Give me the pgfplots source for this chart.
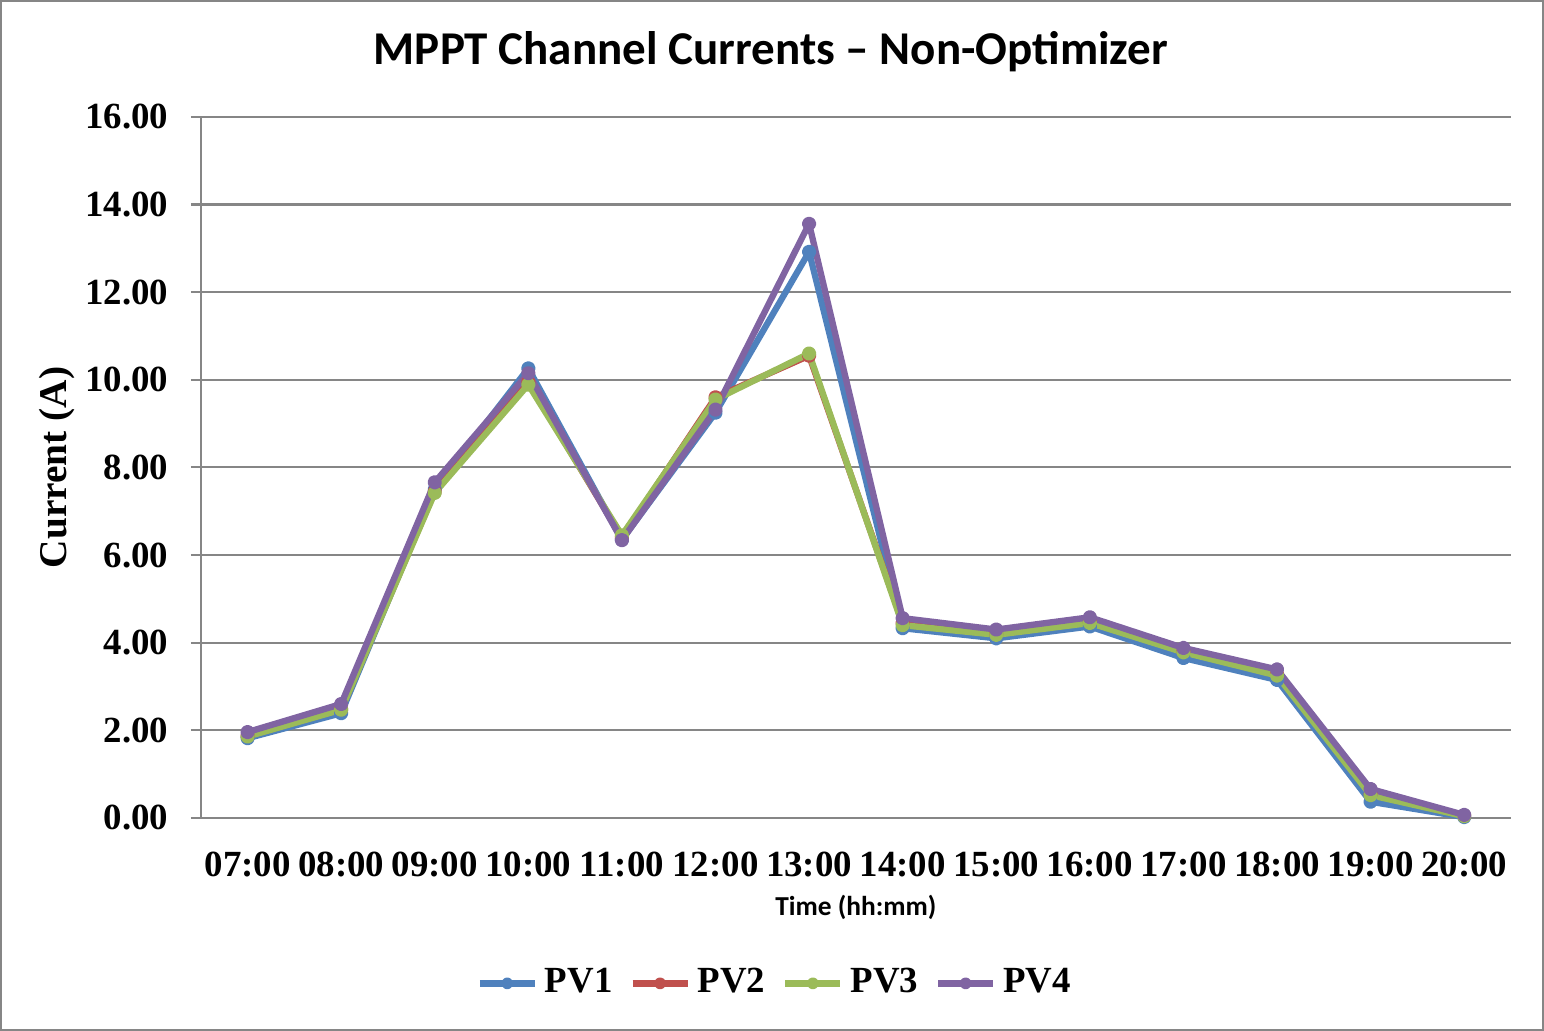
\documentclass[border=0pt]{standalone}
\usepackage{pgfplots}
\pgfplotsset{compat=1.18}
\usepackage{fontspec}
\setmainfont{Liberation Serif}
\newfontfamily\calibri{Carlito}
\definecolor{pvblue}{RGB}{79,129,189}
\definecolor{pvred}{RGB}{192,80,77}
\definecolor{pvgreen}{RGB}{155,187,89}
\definecolor{pvpurple}{RGB}{128,100,162}
\definecolor{gridgray}{RGB}{134,134,134}

\begin{document}
\begin{tikzpicture}
\draw[gridgray, line width=0.6pt] (0,0) rectangle (15.44cm,10.30cm);
\node[font=\calibri\bfseries\fontsize{13.4}{15}\selectfont] at (7.71cm,9.79cm) {MPPT Channel Currents – Non-Optimizer};
\begin{axis}[
    at={(2.00cm,2.12cm)}, anchor=south west,
    width=13.12cm, height=7.02cm, scale only axis,
    clip=false,
    xmin=-0.5, xmax=13.5,
    ymin=0, ymax=16,
    axis x line=bottom, axis y line=left,
    axis line style={gridgray, line width=0.6pt, -},
    xtick={0,...,13},
    xticklabels={07:00,08:00,09:00,10:00,11:00,12:00,13:00,14:00,15:00,16:00,17:00,18:00,19:00,20:00},
    major x tick style={draw=none},
    extra x ticks={-0.5,0.5,...,13.5},
    extra x tick labels={},
    extra x tick style={major tick length=0.1cm, tick style={gridgray, line width=0.6pt}, grid=none},
    ytick={0,2,...,16},
    yticklabel={\pgfmathprintnumber[fixed,fixed zerofill,precision=2]{\tick}},
    /pgf/number format/assume math mode=true,
    tick align=outside,
    major tick length=0.1cm,
    tick style={gridgray, line width=0.6pt},
    ymajorgrids=true,
    grid style={gridgray, line width=0.6pt},
    ticklabel style={font=\bfseries\fontsize{10.5}{12}\selectfont},
    yticklabel style={xshift=-0.1cm},
    xticklabel style={yshift=-0.12cm},
    ylabel={Current (A)},
    ylabel style={at={(axis description cs:-0.11,0.5)}, anchor=center, font=\bfseries\fontsize{11.2}{13}\selectfont},
    xlabel={Time (hh:mm)},
    xlabel style={at={(axis description cs:0.5,-0.127)}, anchor=center, font=\calibri\bfseries\fontsize{7.8}{9}\selectfont},
    legend columns=4,
    legend style={at={(0.44,-0.236)}, anchor=center, draw=none, fill=none,
        font=\bfseries\fontsize{10.5}{12}\selectfont,
        /tikz/every even column/.append style={column sep=0.1cm}},
    legend image code/.code={\draw[#1, mark repeat=2, mark phase=2, mark size=0.8pt] plot coordinates {(0cm,0cm) (0.275cm,0cm) (0.55cm,0cm)};},
    every axis plot/.append style={line width=1.8pt, mark=*, mark size=1.15pt, line join=round},
]
\addplot[color=pvblue, mark options={fill=pvblue}] coordinates {
  (0,1.82) (1,2.39) (2,7.50) (3,10.26) (4,6.35) (5,9.25) (6,12.92)
  (7,4.33) (8,4.10) (9,4.37) (10,3.65) (11,3.15) (12,0.37) (13,0.02)
};
\addlegendentry{PV1}
\addplot[color=pvred, mark options={fill=pvred}] coordinates {
  (0,1.87) (1,2.48) (2,7.45) (3,9.95) (4,6.40) (5,9.60) (6,10.55)
  (7,4.45) (8,4.20) (9,4.47) (10,3.80) (11,3.28) (12,0.54) (13,0.05)
};
\addlegendentry{PV2}
\addplot[color=pvgreen, mark options={fill=pvgreen}] coordinates {
  (0,1.86) (1,2.47) (2,7.42) (3,9.89) (4,6.45) (5,9.55) (6,10.60)
  (7,4.40) (8,4.18) (9,4.45) (10,3.78) (11,3.25) (12,0.52) (13,0.04)
};
\addlegendentry{PV3}
\addplot[color=pvpurple, mark options={fill=pvpurple}] coordinates {
  (0,1.96) (1,2.60) (2,7.66) (3,10.15) (4,6.34) (5,9.32) (6,13.56)
  (7,4.56) (8,4.30) (9,4.58) (10,3.88) (11,3.39) (12,0.66) (13,0.07)
};
\addlegendentry{PV4}
\end{axis}
\end{tikzpicture}
\end{document}
